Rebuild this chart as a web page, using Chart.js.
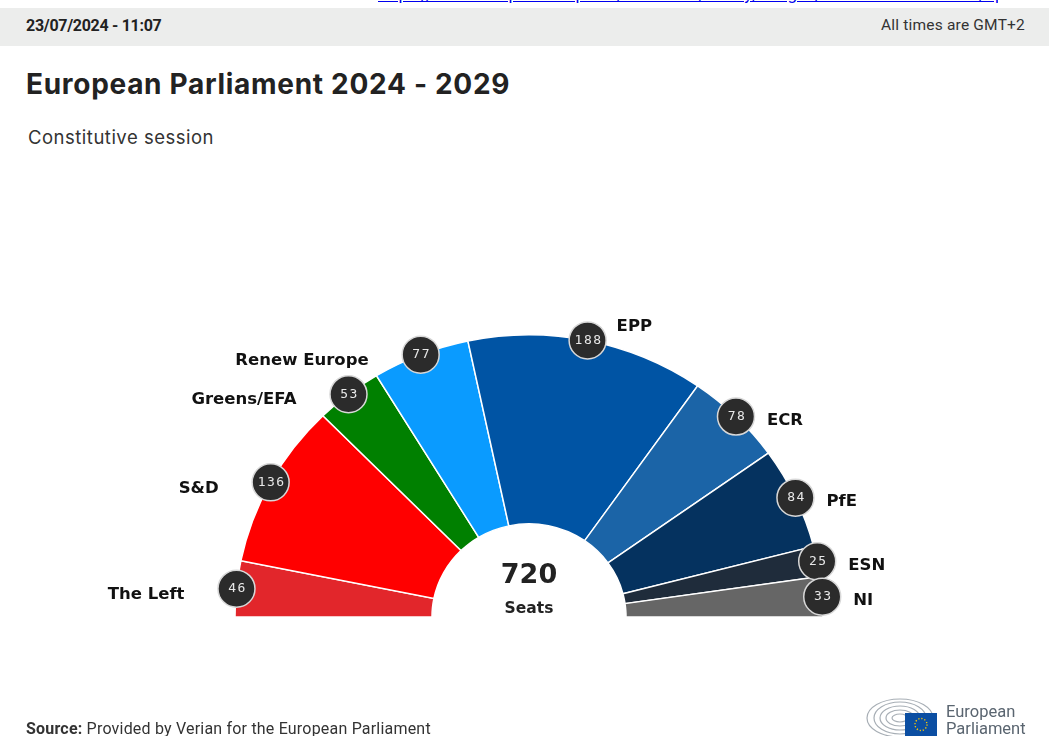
<!DOCTYPE html>
<html>
<head>
<meta charset="utf-8">
<script src="https://cdn.jsdelivr.net/npm/chart.js@4.4.1/dist/chart.umd.min.js"></script>
<style>
    body { margin: 0; background: #fff; font-family: Roboto, sans-serif; }
    #page { position: relative; width: 1049px; height: 736px; overflow: hidden; }
    #link { position: absolute; left: 378px; top: 0; width: 620px; height: 5px; overflow: hidden; }
    #link a { position: absolute; top: -16px; left: 0; color: #0000ee; font-size: 17px; white-space: nowrap; }
    #bar { position: absolute; left: 0; top: 8px; width: 1049px; height: 38px; background: #ecedec; }
    #date { position: absolute; left: 26px; top: 16px; font-size: 16px; font-weight: 700; color: #222; letter-spacing: -0.3px; }
    #tz { position: absolute; right: 24px; top: 16px; font-size: 15.5px; color: #333; letter-spacing: 0.2px; }
    #title { position: absolute; left: 26px; top: 67px; font-family: Inter, sans-serif; font-weight: 700; font-size: 28px; letter-spacing: 0.7px; color: #222; }
    #sub { position: absolute; left: 28px; top: 126px; font-family: Inter, sans-serif; font-size: 18.5px; letter-spacing: 0.5px; color: #333; }
    #source { position: absolute; left: 26px; top: 719px; font-size: 16px; letter-spacing: 0.2px; color: #333; }
    #logo { position: absolute; left: 864px; top: 696px; }
    #logotext { position: absolute; left: 946px; top: 703px; font-size: 16.5px; line-height: 17px; color: #5a6570; }
    #chartbox { position: absolute; left: 0; top: 0; width: 1049px; height: 736px; }
</style>
</head>
<body>
<div id="page">
    <div id="link"><a href="#">https://www.europarl.europa.eu/resources/library/images/20240723PHT22701/ep-seats-2024-2029.jpg</a></div>
    <div id="bar"></div>
    <div id="date">23/07/2024 - 11:07</div>
    <div id="tz">All times are GMT+2</div>
    <div id="title">European Parliament 2024 - 2029</div>
    <div id="sub">Constitutive session</div>
    <div id="chartbox"><canvas id="myChart"></canvas></div>
    <div id="source"><b>Source:</b> Provided by Verian for the European Parliament</div>
    <svg id="logo" width="76" height="40" viewBox="0 0 76 40">
        <g fill="none" stroke="#a7aeb5" stroke-width="1.2">
            <ellipse cx="36" cy="22" rx="8" ry="4"/>
            <ellipse cx="36" cy="22" rx="14" ry="8"/>
            <ellipse cx="36" cy="22" rx="20" ry="12"/>
            <ellipse cx="36" cy="22" rx="26" ry="16"/>
            <ellipse cx="36" cy="22" rx="33" ry="19"/>
        </g>
        <rect x="41" y="17" width="32" height="23" fill="#0b4ea2"/>
        <circle cx="57" cy="28.5" r="6" fill="none" stroke="#ffcc00" stroke-width="1.4" stroke-dasharray="1.2 1.9"/>
    </svg>
    <div id="logotext">European<br>Parliament</div>
</div>

<script>
const parties = ['The Left', 'S&D', 'Greens/EFA', 'Renew Europe', 'EPP', 'ECR', 'PfE', 'ESN', 'NI'];
const seats = [46, 136, 53, 77, 188, 78, 84, 25, 33];
const partyColors = ['#e2262b', '#ff0000', '#008000', '#0a9bff', '#0054a4', '#1b64a7', '#05325f', '#1f2c3b', '#666666'];

window.addEventListener('load', function() {
    drawSeats();
});

var squash = 0.96; // the hemicycle is a bit flatter than a circle

// badges with seat numbers, party names and the total in the middle
const seatLabels = {
    id: 'seatLabels',
    beforeDatasetsDraw(chart) {
        const c = chart.getDatasetMeta(0).data[0];
        const ctx = chart.ctx;
        ctx.save();
        ctx.translate(0, c.y);
        ctx.scale(1, squash);
        ctx.translate(0, -c.y);
    },
    afterDatasetsDraw(chart) {
        const ctx = chart.ctx;
        ctx.restore();
        const arcs = chart.getDatasetMeta(0).data;
        let total = 0;
        ctx.save();
        for (let i = 0; i < arcs.length; i++) {
            const a = arcs[i].getProps(['x', 'y', 'startAngle', 'endAngle', 'outerRadius'], true);
            const mid = (a.startAngle + a.endAngle) / 2;
            const cx = a.x + Math.cos(mid) * a.outerRadius;
            const cy = a.y + Math.sin(mid) * a.outerRadius * squash;
            total += seats[i];

            ctx.beginPath();
            ctx.arc(cx, cy, 18.5, 0, Math.PI * 2);
            ctx.fillStyle = '#2b2b2b';
            ctx.fill();
            ctx.lineWidth = 1.5;
            ctx.strokeStyle = '#d8d8d8';
            ctx.stroke();

            ctx.fillStyle = '#e8e8e8';
            ctx.font = '13px "DejaVu Sans Mono"';
            ctx.letterSpacing = '1.5px';
            ctx.textAlign = 'center';
            ctx.textBaseline = 'middle';
            ctx.fillText(String(seats[i]), cx + 1, cy);

            ctx.letterSpacing = '0px';
            ctx.fillStyle = '#111';
            ctx.font = 'bold 16.5px "DejaVu Sans"';
            if (Math.cos(mid) < 0) {
                ctx.textAlign = 'right';
                ctx.fillText(parties[i], cx - 52, cy + 6);
            } else if (Math.cos(mid) < 0.3) {
                ctx.textAlign = 'left';
                ctx.fillText(parties[i], cx + 29, cy - 14);
            } else {
                ctx.textAlign = 'left';
                ctx.fillText(parties[i], cx + 31, cy + 4);
            }
        }

        const c = arcs[0];
        ctx.textAlign = 'center';
        ctx.fillStyle = '#222';
        ctx.font = 'bold 27px "DejaVu Sans"';
        ctx.fillText(String(total), c.x, c.y - 41);
        ctx.font = 'bold 15.5px "DejaVu Sans"';
        ctx.fillText('Seats', c.x, c.y - 8);
        ctx.restore();
    }
};

function drawSeats() {
    const ctx = document.getElementById('myChart');
    new Chart(ctx, {
        type: 'doughnut',
        data: {
            labels: parties,
            datasets: [{
                data: seats,
                backgroundColor: partyColors,
                borderColor: '#ffffff',
                borderWidth: 1.5,
                borderJoinStyle: 'miter'
            }]
        },
        options: {
            responsive: true,
            maintainAspectRatio: false,
            animation: false,
            rotation: -90,
            circumference: 180,
            radius: 294,
            cutout: '33%',
            layout: {
                padding: { left: 9, right: 0, top: 323, bottom: 119 }
            },
            plugins: {
                legend: { display: false },
                tooltip: { enabled: false }
            }
        },
        plugins: [seatLabels]
    });
}
</script>
</body>
</html>
